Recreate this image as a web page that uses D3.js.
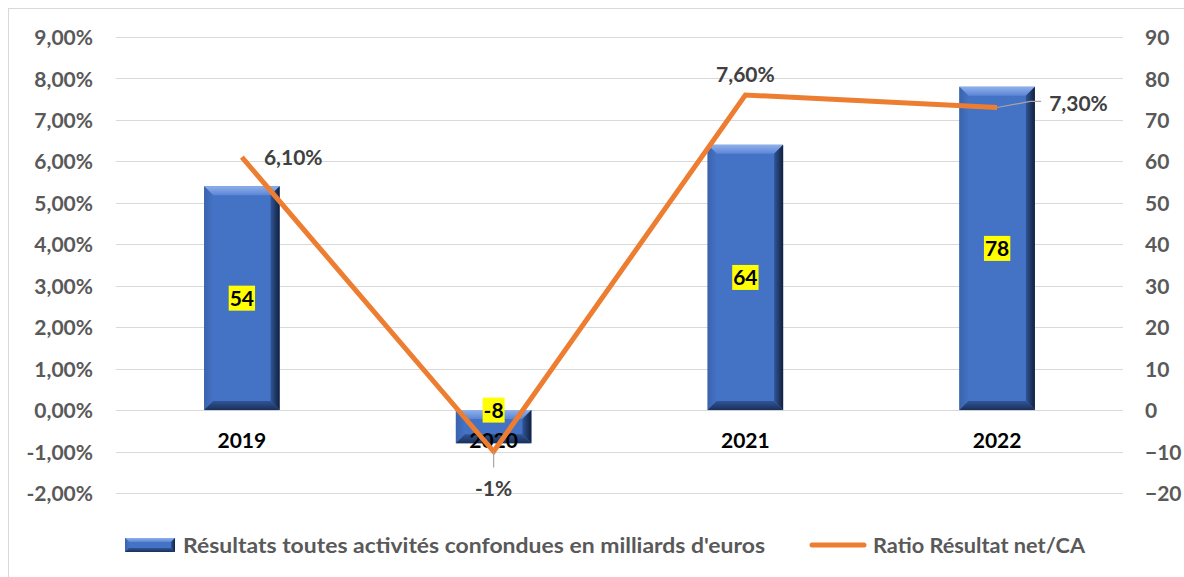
<!DOCTYPE html>
<html><head><meta charset="utf-8">
<script src="https://cdn.jsdelivr.net/npm/d3@7"></script>
<style>body{margin:0;background:#fff}svg{display:block}text{font-family:Lato,"Open Sans",sans-serif;font-weight:bold}</style>
</head><body>
<script>
const categories = ["2019","2020","2021","2022"];
const results = [54, -8, 64, 78];
const ratios = [6.1, -1, 7.6, 7.3];
const ratioLabels = ["6,10%","-1%","7,60%","7,30%"];
const leftTicks = [9,8,7,6,5,4,3,2,1,0,-1,-2];
const rightTicks = [90,80,70,60,50,40,30,20,10,0,-10,-20];
const legendNames = ["Résultats toutes activités confondues en milliards d'euros","Ratio Résultat net/CA"];

const W=1184,H=577;
const svg=d3.select("body").append("svg").attr("width",W).attr("height",H);
const defs=svg.append("defs");
svg.append("rect").attr("x",8.5).attr("y",8.5).attr("width",W+20).attr("height",H+20).attr("fill","#fff").attr("stroke","#d9d9d9");

const pL=116,pR=1123,pT=37,pB=493;
const x=d3.scaleBand().domain(categories).range([pL,pR]).paddingInner(0.7).paddingOuter(0.35);
const yL=d3.scaleLinear().domain([-2,9]).range([pB,pT]);
const yR=d3.scaleLinear().domain([-20,90]).range([pB,pT]);

// grid
svg.append("g").selectAll("line").data(leftTicks).join("line")
 .attr("x1",pL).attr("x2",pR).attr("y1",d=>Math.round(yL(d))+0.5).attr("y2",d=>Math.round(yL(d))+0.5)
 .attr("stroke","#d9d9d9").attr("stroke-width",1.2);

// axes
const fmt=d=>d.toFixed(2).replace(".",",")+"%";
const gL=svg.append("g").attr("transform",`translate(${pL},0)`).call(d3.axisLeft(yL).tickValues(leftTicks).tickFormat(fmt).tickSize(0).tickPadding(23));
gL.select(".domain").remove();
gL.selectAll("text").attr("fill","#595959").attr("font-size",21).attr("font-family","Lato").attr("font-weight","bold").attr("dy","0.36em");
const gR=svg.append("g").attr("transform",`translate(${pR},0)`).call(d3.axisRight(yR).tickValues(rightTicks).tickSize(0).tickPadding(22));
gR.select(".domain").remove();
gR.selectAll("text").attr("fill","#595959").attr("font-size",21).attr("font-family","Lato").attr("font-weight","bold").attr("dy","0.36em");

// gradients for bevels
function lg(id,x1,y1,x2,y2,c1,c2){const g=defs.append("linearGradient").attr("id",id).attr("x1",x1).attr("y1",y1).attr("x2",x2).attr("y2",y2);g.append("stop").attr("offset","0").attr("stop-color",c1);g.append("stop").attr("offset","1").attr("stop-color",c2);}
lg("gTop",0,0,0,1,"#8fb0ea","#5b85d6");
lg("gRight",0,0,1,0,"#2f5597","#13203d");
lg("gLeft",0,0,1,0,"#3a63ad","#4472c4");
lg("gBot",0,0,0,1,"#2f5597","#1b2f57");

function bevelBar(g,x0,y0,w,h,bv){
  const x1=x0+w,y1=y0+h;
  g.append("rect").attr("x",x0).attr("y",y0).attr("width",w).attr("height",h).attr("fill","#4472c4");
  const p=(pts,f)=>g.append("polygon").attr("points",pts.map(q=>q.join(",")).join(" ")).attr("fill",f);
  p([[x0,y0],[x1,y0],[x1-bv,y0+bv],[x0+bv,y0+bv]],"url(#gTop)");
  p([[x0,y0],[x0+bv,y0+bv],[x0+bv,y1-bv],[x0,y1]],"url(#gLeft)");
  p([[x1,y0],[x1,y1],[x1-bv,y1-bv],[x1-bv,y0+bv]],"url(#gRight)");
  p([[x0,y1],[x0+bv,y1-bv],[x1-bv,y1-bv],[x1,y1]],"url(#gBot)");
}
const bars=svg.append("g");
categories.forEach((c,i)=>{
  const v=results[i];
  const y0=Math.min(yR(v),yR(0)), h=Math.abs(yR(v)-yR(0));
  bevelBar(bars.append("g"),x(c),y0,x.bandwidth(),h,Math.min(9,h/2.2));
});

// category labels
svg.append("g").selectAll("text").data(categories).join("text")
 .attr("x",d=>x(d)+x.bandwidth()/2).attr("y",yR(0)+38).attr("text-anchor","middle")
 .attr("font-size",21).attr("fill","#000").text(d=>d);

// line
const cx=d=>x(d)+x.bandwidth()/2;
svg.append("path").datum(categories).attr("fill","none").attr("stroke","#ed7d31").attr("stroke-width",5)
 .attr("stroke-linejoin","miter")
 .attr("d",d3.line().x(d=>cx(d)).y((d,i)=>yL(ratios[i])));

// bar value labels
categories.forEach((c,i)=>{
  const v=results[i];
  const yc=Math.min((yR(v)+yR(0))/2,yR(0));
  const g=svg.append("g");
  const t=g.append("text").attr("x",cx(c)).attr("y",yc+7.5).attr("text-anchor","middle").attr("font-size",21).attr("fill","#000").text(v);
  const bb=t.node().getBBox();
  g.insert("rect","text").attr("x",bb.x-1).attr("y",yc-12.5).attr("width",bb.width+2).attr("height",25).attr("fill","#ffff00");
});

// ratio labels
const lblG=svg.append("g");
lblG.append("line").attr("x1",cx("2020")).attr("x2",cx("2020")).attr("y1",yL(-1)).attr("y2",yL(-1)+16).attr("stroke","#a6a6a6").attr("stroke-width",1.2);
lblG.append("path").attr("fill","none").attr("stroke","#a6a6a6").attr("stroke-width",1.2)
 .attr("d",`M${cx("2022")},${yL(7.3)} L${cx("2022")+33},${yL(7.3)-6} L${cx("2022")+44},${yL(7.3)-6}`);
const lp=[[22,8,"start"],[0,44,"middle"],[0,-13,"middle"],[52,4,"start"]];
categories.forEach((c,i)=>{
  lblG.append("text").attr("x",cx(c)+lp[i][0]).attr("y",yL(ratios[i])+lp[i][1]).attr("text-anchor",lp[i][2])
   .attr("font-size",21).attr("fill","#404040").text(ratioLabels[i]);
});

// legend
const lg1=svg.append("g");
bevelBar(lg1,125,538,50,14,4);
lg1.append("text").attr("x",183).attr("y",553).attr("font-size",21).attr("fill","#595959")
 .attr("textLength",582).attr("lengthAdjust","spacingAndGlyphs").text(legendNames[0]);
lg1.append("line").attr("x1",812).attr("x2",864).attr("y1",545).attr("y2",545).attr("stroke","#ed7d31").attr("stroke-width",5).attr("stroke-linecap","round");
lg1.append("text").attr("x",873).attr("y",553).attr("font-size",21).attr("fill","#595959")
 .attr("textLength",212).attr("lengthAdjust","spacingAndGlyphs").text(legendNames[1]);
</script>
</body></html>
